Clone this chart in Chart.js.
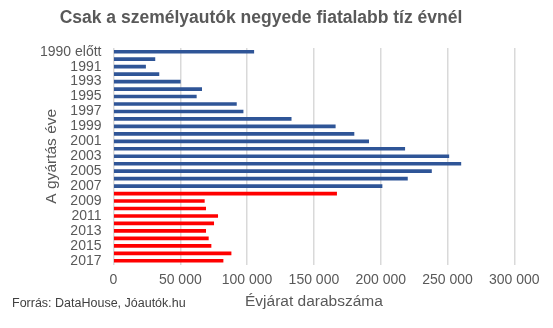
<!DOCTYPE html>
<html lang="hu">
<head>
<meta charset="utf-8">
<script src="https://cdn.jsdelivr.net/npm/chart.js@4/dist/chart.umd.min.js"></script>
<style>
  html, body { margin: 0; padding: 0; background: #ffffff; }
  #wrap { width: 553px; height: 328px; position: relative; }
</style>
</head>
<body>
<div id="wrap"><canvas id="c" width="553" height="328"></canvas></div>
<script>
// Gyártási évek (kategóriák)
const years = ['1990 előtt', '1990', '1991', '1992', '1993', '1994', '1995', '1996', '1997',
  '1998', '1999', '2000', '2001', '2002', '2003', '2004', '2005', '2006', '2007',
  '2008', '2009', '2010', '2011', '2012', '2013', '2014', '2015', '2016', '2017'];

// Személyautók száma évjáratonként
const counts = [105000, 31000, 24000, 34000, 50000, 66000, 62000, 92000, 97000,
  133000, 166000, 180000, 191000, 218000, 251000, 260000, 238000, 220000, 201000,
  167000, 68000, 69000, 78000, 75000, 69000, 71000, 73000, 88000, 82000];

// A tíz évnél fiatalabb évjáratok ettől kezdődnek
const youngFrom = '2008';

// X tengely beosztása
const xTicks = [0, 50000, 100000, 150000, 200000, 250000, 300000];

const FONT = '"Liberation Sans", Arial, sans-serif';
const BLUE = '#2f5597';
const RED = '#ff0000';
const youngIndex = years.indexOf(youngFrom);

const fmt = v => String(v).replace(/\B(?=(\d{3})+(?!\d))/g, ' ');

const sourceNote = {
  id: 'sourceNote',
  afterDraw(chart) {
    const ctx = chart.ctx;
    ctx.save();
    ctx.font = '12.5px ' + FONT;
    ctx.fillStyle = '#404040';
    ctx.textAlign = 'left';
    ctx.textBaseline = 'middle';
    ctx.fillText('Forrás: DataHouse, Jóautók.hu', 12, 304);
    ctx.restore();
  }
};

new Chart(document.getElementById('c'), {
  type: 'bar',
  data: {
    labels: years,
    datasets: [{
      data: counts,
      backgroundColor: years.map((y, i) => i >= youngIndex ? RED : BLUE),
      barThickness: 3,
      borderWidth: 0
    }]
  },
  options: {
    indexAxis: 'y',
    responsive: false,
    animation: false,
    devicePixelRatio: 1,
    layout: { padding: { left: 7.7, right: 38.7, top: 0, bottom: 0 } },
    plugins: {
      legend: { display: false },
      tooltip: { enabled: false },
      title: {
        display: true,
        text: 'Csak a személyautók negyede fiatalabb tíz évnél',
        color: '#595959',
        font: { family: FONT, size: 17.5, weight: 'bold' },
        padding: { top: 8, bottom: 19 }
      }
    },
    scales: {
      x: {
        type: 'linear',
        min: 0,
        max: 300000,
        afterBuildTicks(scale) { scale.ticks = xTicks.map(v => ({ value: v })); },
        afterFit(scale) { scale.height = 63.5; },
        ticks: {
          color: '#595959',
          font: { family: FONT, size: 14 },
          padding: 7,
          maxRotation: 0,
          callback: v => fmt(v)
        },
        grid: { color: '#d9d9d9', lineWidth: 1.5, drawTicks: false },
        border: { display: false },
        title: {
          display: true,
          text: 'Évjárat darabszáma',
          color: '#595959',
          font: { family: FONT, size: 15.5 },
          padding: { top: 0, bottom: 16.5 }
        }
      },
      y: {
        afterFit(scale) { scale.width = 105.8; },
        ticks: {
          color: '#595959',
          font: { family: FONT, size: 14 },
          padding: 12,
          autoSkip: false,
          callback(value, index) { return index % 2 === 0 ? years[index] : ''; }
        },
        grid: { display: false, drawTicks: false },
        border: { display: false },
        title: {
          display: true,
          text: 'A gyártás éve',
          color: '#595959',
          font: { family: FONT, size: 15.5 },
          padding: { top: 34.3, bottom: 0 }
        }
      }
    }
  },
  plugins: [sourceNote]
});
</script>
</body>
</html>
